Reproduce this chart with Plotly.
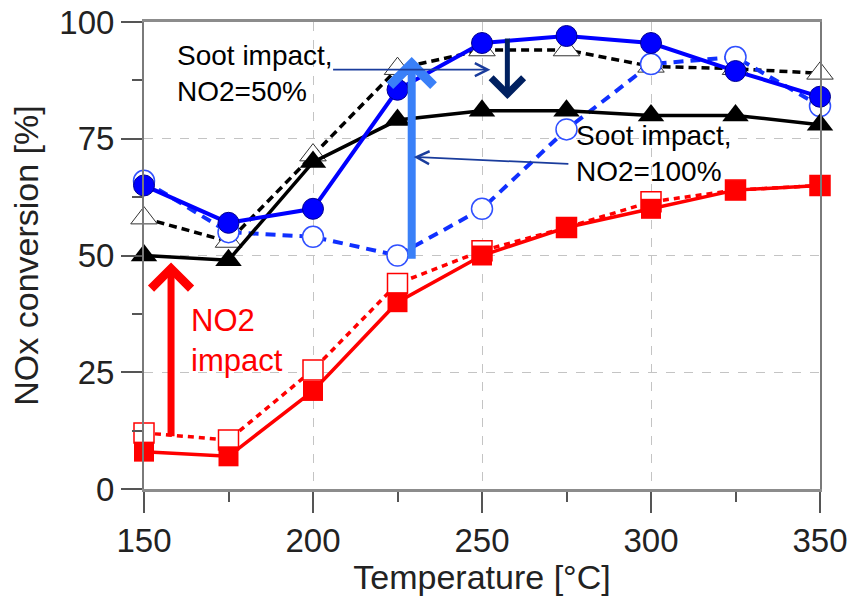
import plotly.graph_objects as go

# Reaction temperature (°C)
temperature = [150, 175, 200, 225, 250, 275, 300, 325, 350]

# NOx conversion (%) for each test condition
no2_50_clean = [50, 49, 70, 79, 81, 81, 80, 80, 78]          # black solid, filled triangles
no2_50_soot = [58, 53, 71.5, 90, 94, 94, 90.5, 90, 89]        # black dashed, open triangles
no2_100_clean = [65, 57, 60, 85.5, 95.5, 97, 95.5, 89.5, 84]  # blue solid, filled circles
no2_100_soot = [66, 55, 54, 50, 60, 77, 91, 92.5, 82]         # blue dashed, open circles
no2_0_clean = [8, 7, 21, 40, 50, 56, 60, 64, 65]              # red solid, filled squares
no2_0_soot = [12, 10.5, 25.5, 44, 51, 56, 61.5, 64, 65]       # red dashed, open squares

x_ticks = [150, 200, 250, 300, 350]
y_ticks = [0, 25, 50, 75, 100]

FONT = "Liberation Sans, Arial, sans-serif"

fig = go.Figure()

# dashed series first so the solid markers sit on top
fig.add_trace(go.Scatter(
    x=temperature, y=no2_50_soot, mode="lines+markers",
    line=dict(color="black", width=3.5, dash="8px,5px"),
    marker=dict(symbol="triangle-up", size=23, color="white",
                line=dict(color="#333333", width=1)),
    cliponaxis=False, showlegend=False))
fig.add_trace(go.Scatter(
    x=temperature, y=no2_100_soot, mode="lines+markers",
    line=dict(color="#1030ff", width=4, dash="10px,7px"),
    marker=dict(symbol="circle", size=21, color="white",
                line=dict(color="#3050ff", width=1.5)),
    cliponaxis=False, showlegend=False))
fig.add_trace(go.Scatter(
    x=temperature, y=no2_0_soot, mode="lines+markers",
    line=dict(color="#ff0000", width=3.5, dash="6px,5px"),
    marker=dict(symbol="square", size=20, color="white",
                line=dict(color="#ff0000", width=1.5)),
    cliponaxis=False, showlegend=False))

fig.add_trace(go.Scatter(
    x=temperature, y=no2_50_clean, mode="lines+markers",
    line=dict(color="black", width=3.5),
    marker=dict(symbol="triangle-up", size=23, color="black"),
    cliponaxis=False, showlegend=False))
fig.add_trace(go.Scatter(
    x=temperature, y=no2_100_clean, mode="lines+markers",
    line=dict(color="#0000ff", width=4),
    marker=dict(symbol="circle", size=21, color="#0000ff",
                line=dict(color="#000090", width=1)),
    cliponaxis=False, showlegend=False))
fig.add_trace(go.Scatter(
    x=temperature, y=no2_0_clean, mode="lines+markers",
    line=dict(color="#ff0000", width=3.5),
    marker=dict(symbol="square", size=20, color="#ff0000"),
    cliponaxis=False, showlegend=False))

# arrows and labels
arrows = [
    # (tip x, tip y, tail x, tail y, color, width, head, size)
    (158, 48.5, 158, 11, "#ff0000", 7, 4, 1.1),
    (229.2, 92.5, 229.2, 49, "#3a80f8", 8, 4, 1.05),
    (257.5, 83.5, 257.5, 96.8, "#002060", 5, 4, 1.25),
    (252.5, 89.8, 205.5, 89.8, "#1a3c9c", 1.8, 5, 1.4),
    (229.8, 71.1, 276, 69.6, "#1a3c9c", 1.8, 5, 1.4),
]
for tx, ty, sx, sy, col, w, head, size in arrows:
    fig.add_annotation(
        x=tx, y=ty, ax=sx, ay=sy, xref="x", yref="y", axref="x", ayref="y",
        text="", showarrow=True, arrowhead=head, arrowsize=size,
        arrowwidth=w, arrowcolor=col, standoff=0, startstandoff=0)

fig.add_annotation(
    x=159.2, y=96.6, xref="x", yref="y", xanchor="left", yanchor="top",
    text="Soot impact,<br>NO2=50%", showarrow=False, align="left",
    font=dict(family=FONT, size=28, color="black"))
fig.add_annotation(
    x=277.3, y=79.4, xref="x", yref="y", xanchor="left", yanchor="top",
    text="Soot impact,<br>NO2=100%", showarrow=False, align="left",
    font=dict(family=FONT, size=28, color="black"))
fig.add_annotation(
    x=163.4, y=40.2, xref="x", yref="y", xanchor="left", yanchor="top",
    text="NO2<br>impact", showarrow=False, align="left",
    font=dict(family=FONT, size=31, color="#ff0000"))

fig.update_layout(
    width=853, height=596,
    margin=dict(l=144, r=33, t=22, b=107),
    paper_bgcolor="white", plot_bgcolor="white",
    font=dict(family=FONT, color="#222222"),
)
fig.update_xaxes(
    range=[150, 350], tickvals=x_ticks, ticktext=[str(v) for v in x_ticks],
    automargin=False,
    ticks="outside", ticklen=21, tickwidth=1.5, tickcolor="#555555",
    tickfont=dict(size=33, family=FONT, color="#222222"),
    showline=True, linecolor="#8c8c8c", linewidth=2.5, mirror=True,
    showgrid=True, gridcolor="#c4c4c4", griddash="dash", gridwidth=1.2,
    zeroline=False,
    minor=dict(dtick=25, tick0=0, ticks="outside", ticklen=10,
               tickcolor="#555555", tickwidth=1.5, showgrid=False),
    title=dict(text="Temperature [°C]", standoff=4,
               font=dict(size=34, family=FONT, color="#222222")),
)
fig.update_yaxes(
    range=[0, 100], tickvals=y_ticks, ticktext=[str(v) for v in y_ticks],
    automargin=False,
    ticks="outside", ticklen=21, tickwidth=1.5, tickcolor="#555555",
    tickfont=dict(size=33, family=FONT, color="#222222"),
    showline=True, linecolor="#7a7a7a", linewidth=2, mirror=True,
    showgrid=True, gridcolor="#c4c4c4", griddash="dash", gridwidth=1.2,
    zeroline=False,
    minor=dict(dtick=12.5, tick0=0, ticks="outside", ticklen=10,
               tickcolor="#555555", tickwidth=1.5, showgrid=False),
    title=dict(text="NOx conversion [%]", standoff=10,
               font=dict(size=34, family=FONT, color="#222222")),
)

fig.write_html("out.html")
